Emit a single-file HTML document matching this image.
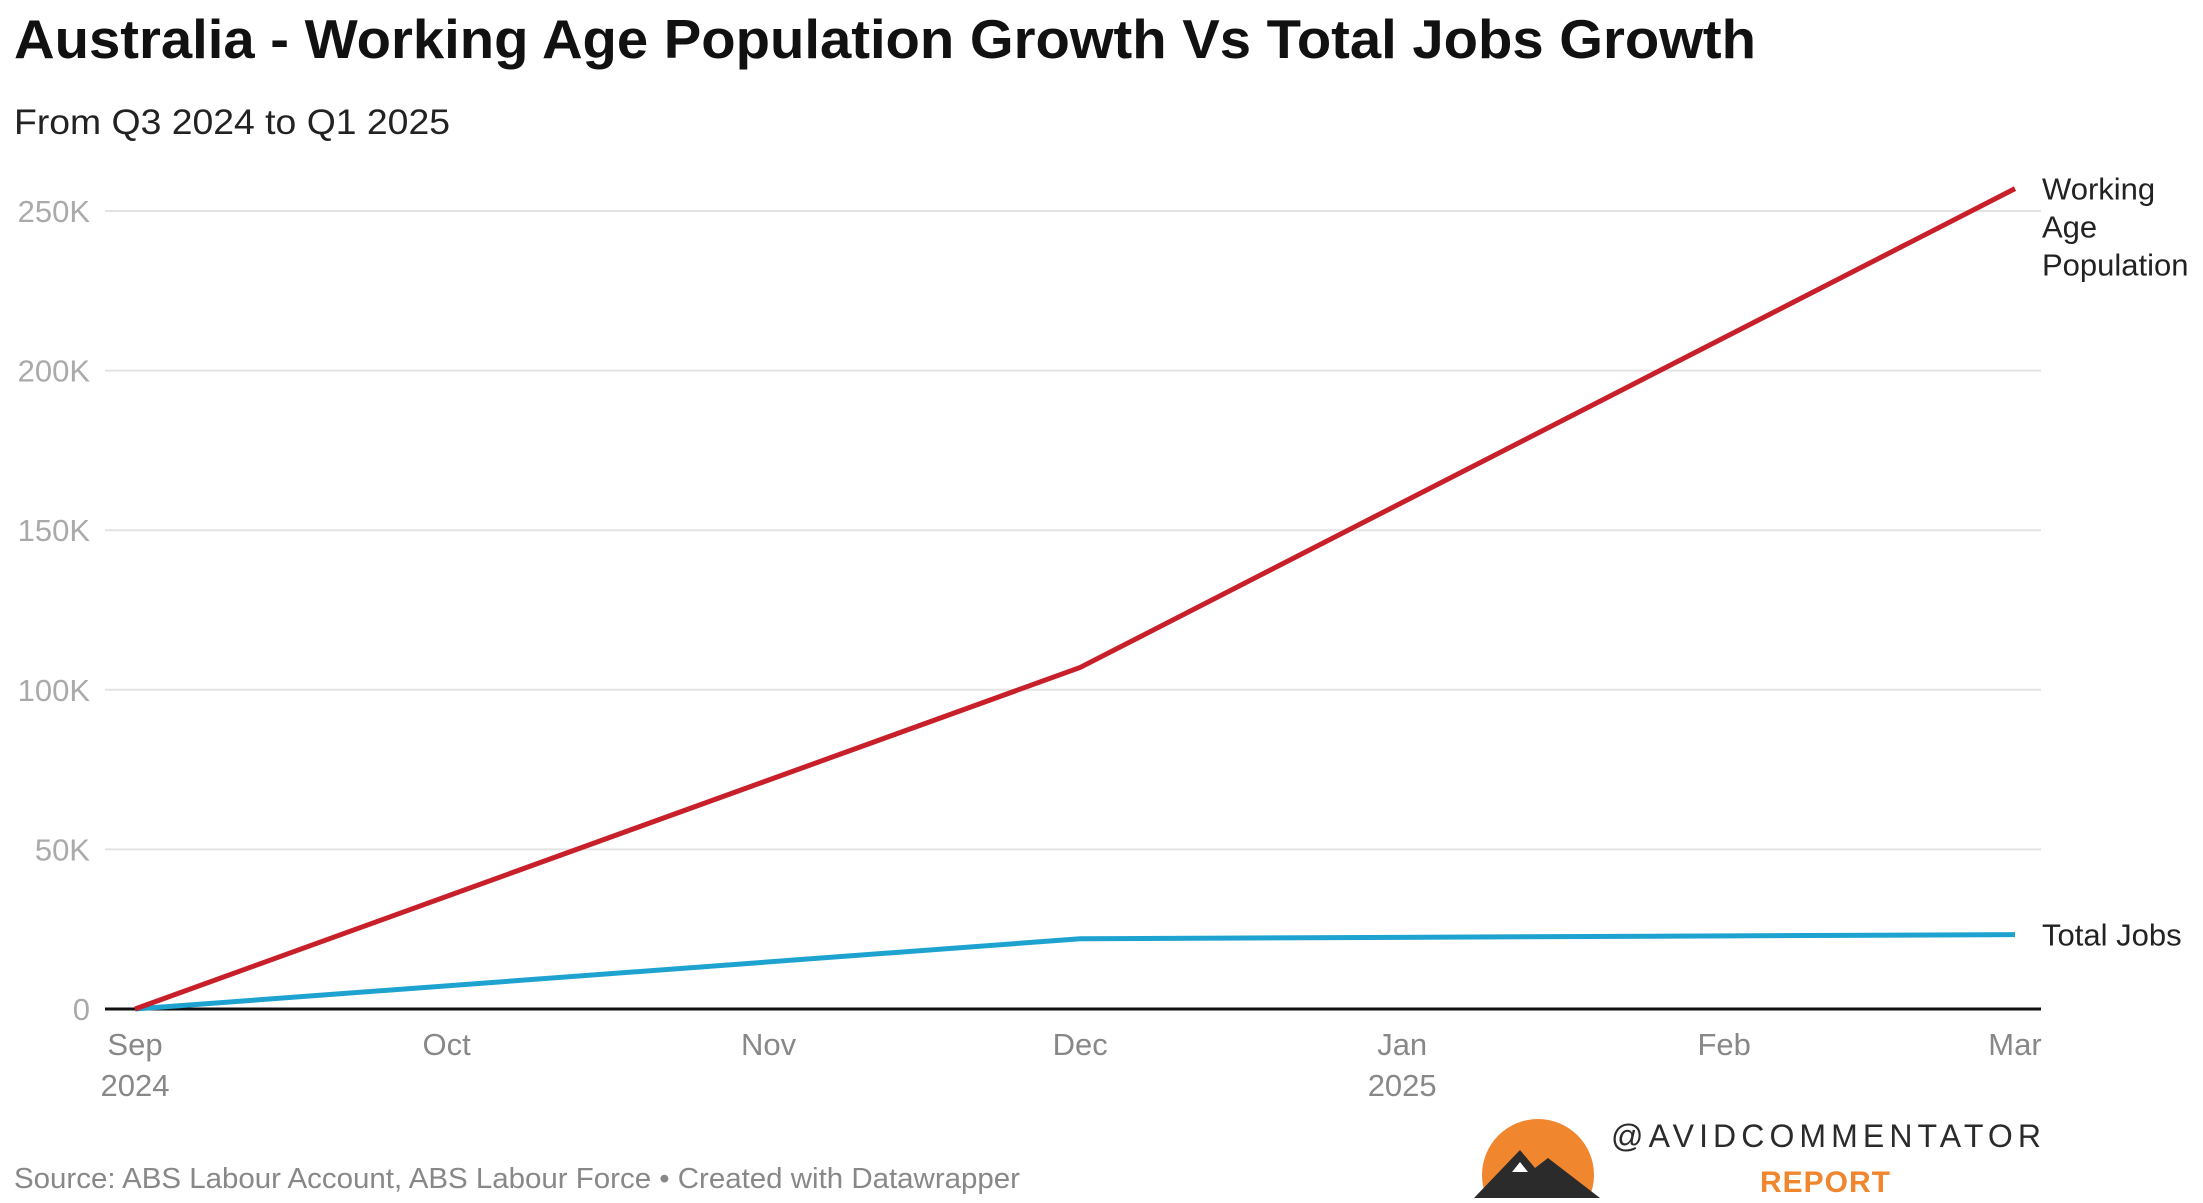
<!DOCTYPE html>
<html><head><meta charset="utf-8"><style>
body{margin:0;background:#fff;width:2203px;height:1198px;overflow:hidden;font-family:"Liberation Sans",sans-serif}
</style></head><body>
<svg width="2203" height="1198">
<text x="14" y="58" font-size="55" font-weight="bold" fill="#111" textLength="1742" lengthAdjust="spacingAndGlyphs">Australia - Working Age Population Growth Vs Total Jobs Growth</text>
<text x="14" y="134" font-size="35" fill="#222" textLength="436" lengthAdjust="spacingAndGlyphs">From Q3 2024 to Q1 2025</text>
<g id="grid"></g><g id="xt"></g><g id="lines"></g>
<text x="14" y="1188" font-size="29" fill="#888" textLength="1006" lengthAdjust="spacingAndGlyphs">Source: ABS Labour Account, ABS Labour Force • Created with Datawrapper</text>
<g>
<circle cx="1538" cy="1175" r="56" fill="#f0862e"/>
<polygon points="1474,1198 1520,1150 1535,1168 1548,1158 1600,1198" fill="#2b2b2b"/>
<polygon points="1520,1162 1528,1172 1512,1172" fill="#fff"/>
<text x="1611" y="1147" font-size="32" fill="#2b2b2b" textLength="430" lengthAdjust="spacing">@AVIDCOMMENTATOR</text>
<text x="1760" y="1192" font-size="30" font-weight="bold" fill="#f0862e" textLength="130" lengthAdjust="spacing">REPORT</text>
</g>
</svg>
<script>
const months=["Sep","Oct","Nov","Dec","Jan","Feb","Mar"];
const monthYears=["2024","","","","2025","",""];
const monthDays=[0,30,61,91,122,153,181];
const yTicks=[0,50000,100000,150000,200000,250000];
const yTickLabels=["0","50K","100K","150K","200K","250K"];
const dataDays=[0,91,181];
const popValues=[0,107000,257000];
const jobsValues=[0,22000,23300];
const NS="http://www.w3.org/2000/svg";
const X=d=>135+d*(2015-135)/181;
const Y=v=>1009-v*(1009-211)/250000;
function mk(t,a,p){const e=document.createElementNS(NS,t);for(const k in a)e.setAttribute(k,a[k]);p.appendChild(e);return e;}
const g=document.getElementById('grid');
yTicks.forEach((v,i)=>{
  const l=mk('line',{x1:105,x2:2041,y1:Y(v),y2:Y(v),stroke:v===0?'#111':'#e3e3e3','stroke-width':v===0?3:2},g);
  
  
  const t=mk('text',{x:90,y:Y(v)+11,'text-anchor':'end','font-size':31,fill:'#aaa'},g);
  t.textContent=yTickLabels[i];
  
  
});
const xt=document.getElementById('xt');
months.forEach((m,i)=>{
  const t=mk('text',{x:X(monthDays[i]),y:1055,'text-anchor':'middle','font-size':31,fill:'#888'},xt);
  t.textContent=m;
  
  
  if(monthYears[i]){const y=mk('text',{x:X(monthDays[i]),y:1096,'text-anchor':'middle','font-size':31,fill:'#888'},xt);y.textContent=monthYears[i];
  
  }
});
const lg=document.getElementById('lines');
function series(vals,color,name){
  const p=mk('polyline',{points:vals.map((v,i)=>X(dataDays[i])+','+Y(v)).join(' '),fill:'none',stroke:color,'stroke-width':5,'stroke-linejoin':'round'},lg);
  
  
}
series(jobsValues,'#1ea3d0','line-total-jobs');
series(popValues,'#c8202a','line-working-age-population');
const last=dataDays.length-1;
["Working","Age","Population"].forEach((w,i)=>{
  const t=mk('text',{x:2042,y:Y(popValues[last])+11+i*38,'font-size':31,fill:'#222'},lg);
  t.textContent=w;
  
  
});
const tj=mk('text',{x:2042,y:Y(jobsValues[last])+11,'font-size':31,fill:'#222'},lg);
tj.textContent="Total Jobs";


</script>
</body></html>
